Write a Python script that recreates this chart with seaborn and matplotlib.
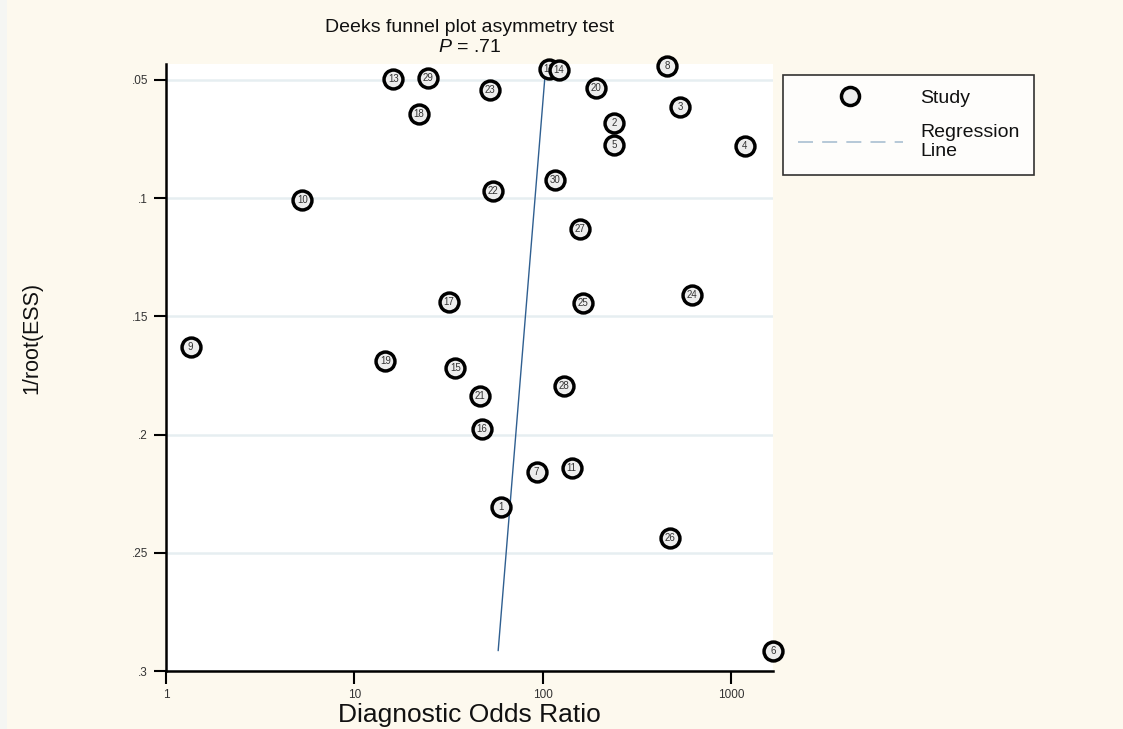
import numpy as np
import pandas as pd
import matplotlib
matplotlib.use("Agg")
import matplotlib.pyplot as plt
from matplotlib.lines import Line2D
from matplotlib.patches import Rectangle
import seaborn as sns

# Study-level data: diagnostic odds ratio and 1/sqrt(effective sample size)
study = list(range(1, 31))
dor = [59.9, 240, 538, 1180, 238, 1667, 92.6, 459, 1.35, 5.3,
       142.5, 107.6, 16.1, 121.6, 34.4, 47.6, 31.8, 22.0, 14.6, 190.5,
       46.3, 54.5, 52.4, 617, 163.6, 472, 157, 129.7, 24.5, 116.8]
inv_root_ess = [0.2308, 0.0683, 0.0613, 0.0779, 0.0776, 0.2914, 0.2160, 0.0440, 0.1631, 0.1008,
                0.2141, 0.0452, 0.0496, 0.0459, 0.1720, 0.1978, 0.1438, 0.0644, 0.1690, 0.0534,
                0.1837, 0.0968, 0.0542, 0.1409, 0.1445, 0.2439, 0.1129, 0.1794, 0.0490, 0.0924]

# Fitted regression of log10(DOR) on 1/root(ESS)
reg_intercept = 2.061
reg_slope = -1.022
p_value = ".71"

x_ticks = [1, 10, 100, 1000]
x_tick_labels = ["1", "10", "100", "1000"]
y_ticks = [0.05, 0.10, 0.15, 0.20, 0.25, 0.30]
y_tick_labels = [".05", ".1", ".15", ".2", ".25", ".3"]

df = pd.DataFrame({"study": study, "dor": dor, "ess": inv_root_ess})

sns.set_style("white")
plt.rcParams["font.family"] = ["Liberation Sans", "DejaVu Sans"]
plt.rcParams["mathtext.fontset"] = "custom"
plt.rcParams["mathtext.it"] = "Liberation Sans:italic"
plt.rcParams["mathtext.rm"] = "Liberation Sans"

W, H = 1123, 729
fig = plt.figure(figsize=(W / 100, H / 100), dpi=100, facecolor="#FDF9EE")
fig.patches.append(Rectangle((0, 0), 7 / W, 1, transform=fig.transFigure,
                             facecolor="#F5F6F3", edgecolor="none", zorder=0))

ax_l, ax_r, ax_t, ax_b = 166, 773, 64, 671
ax = fig.add_axes([ax_l / W, 1 - ax_b / H, (ax_r - ax_l) / W, (ax_b - ax_t) / H])
ax.set_facecolor("white")

# Points drawn one by one so later studies sit on top of earlier ones
for i, row in df.iterrows():
    sns.scatterplot(data=df.iloc[[i]], x="dor", y="ess", ax=ax, s=185,
                    color="#EDEDED", edgecolor="black", linewidth=2.5,
                    zorder=3 + 2 * i, legend=False, clip_on=False)
    ax.text(row["dor"], row["ess"], str(int(row["study"])), fontsize=7,
            color="#333333", ha="center", va="center", zorder=4 + 2 * i,
            clip_on=False)

# Regression line across the observed precision range
y_line = np.array([min(inv_root_ess), max(inv_root_ess)])
x_line = 10 ** (reg_intercept + reg_slope * y_line)
ax.plot(x_line, y_line, color="#2F5F90", linewidth=1.0, zorder=2)

ax.set_xscale("log")
ax.set_xlim(1, max(dor))
ax.set_ylim(0.3, 0.05 - 16 / 2364)
ax.set_xticks(x_ticks)
ax.set_xticklabels(x_tick_labels)
ax.minorticks_off()
ax.set_yticks(y_ticks)
ax.set_yticklabels(y_tick_labels)
ax.tick_params(axis="both", direction="out", length=9, width=1.5, color="black",
               labelsize=8.5, labelcolor="#333333", pad=4, left=True, bottom=True)

ax.yaxis.grid(True, color="#E6EEF1", linewidth=1.8)
ax.xaxis.grid(False)
ax.set_axisbelow(True)
for side in ["top", "right"]:
    ax.spines[side].set_visible(False)
for side in ["left", "bottom"]:
    ax.spines[side].set_color("black")
    ax.spines[side].set_linewidth(1.8)

ax.set_xlabel("Diagnostic Odds Ratio", fontsize=19, color="#111111", labelpad=1.5)
ax.set_ylabel("1/root(ESS)", fontsize=15.5, color="#111111")
ax.yaxis.set_label_coords((42 - ax_l) / (ax_r - ax_l), 1 - (338 - ax_t) / (ax_b - ax_t))

cx = (ax_l + ax_r) / 2 / W
fig.text(cx, 1 - 28 / H, "Deeks funnel plot asymmetry test", fontsize=14,
         ha="center", va="center", color="#111111")
fig.text(cx, 1 - 47 / H, r"$\it{P}$ = " + p_value, fontsize=14,
         ha="center", va="center", color="#111111")

handles = [
    Line2D([], [], marker="o", linestyle="none", markersize=13,
           markerfacecolor="#EDEDED", markeredgecolor="black", markeredgewidth=2.5),
    Line2D([], [], color="#A9BFD2", linestyle=(0, (9, 5.5)), linewidth=1.2),
]
leg = fig.legend(handles, ["Study", "Regression\nLine"], loc="upper left",
                 bbox_to_anchor=(783 / W, 1 - 75 / H), bbox_transform=fig.transFigure,
                 frameon=True, fancybox=False, fontsize=14, handlelength=5.4,
                 handletextpad=0.9, borderpad=0.75, labelspacing=0.85, borderaxespad=0)
leg.get_frame().set_edgecolor("black")
leg.get_frame().set_linewidth(1.2)
leg.get_frame().set_facecolor("white")
for t in leg.get_texts():
    t.set_color("#111111")

fig.savefig("out.png", dpi=100, facecolor=fig.get_facecolor())
